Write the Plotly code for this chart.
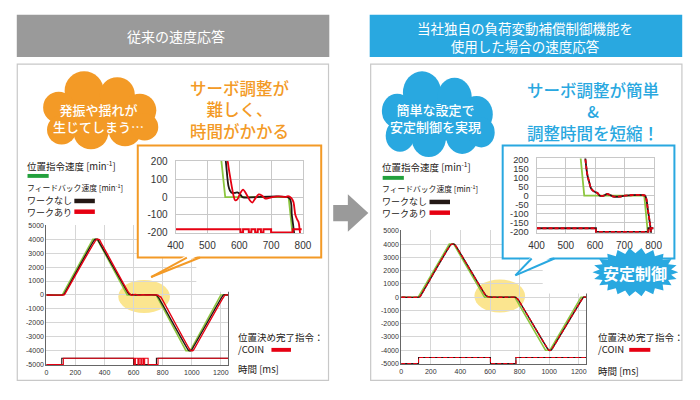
import math
import plotly.graph_objects as go

W, H = 700, 400
FONT = "Noto Sans CJK JP, Noto Sans, sans-serif"

# ---------------- data ----------------
# left: conventional response
cmd_t_L = [0, 110, 320, 350, 546, 556, 755, 765, 960, 990, 1200, 1250]
cmd_v_L = [0, 0, 4000, 4000, 200, 0, 0, -200, -4000, -4000, 0, 0]

fb_nowork_t_L = [0, 112, 122, 130, 330, 338, 352, 360, 558, 566, 571, 579, 587, 594, 602, 610,
                 757, 765, 772, 972, 980, 995, 1005, 1210, 1218, 1250]
fb_nowork_v_L = [0, 0, 60, 200, 3950, 4000, 3990, 3850, 200, 64, 36, 22, 24, 27, 18, 0,
                 -5, -100, -200, -3900, -4000, -4000, -3850, -100, 0, 0]

fb_work_t_L = [0, 116, 126, 135, 342, 352, 364, 374, 564, 571, 577, 582, 587, 594, 602, 612, 622,
               633, 641, 650, 661, 671, 682, 694, 704, 724, 745, 753, 763, 770, 776, 782, 786, 790,
               985, 995, 1008, 1018, 1222, 1232, 1250]
fb_work_v_L = [0, 0, 40, 200, 3950, 4000, 3980, 3800, 200, 118, 55, 9, -18, -13, 18, 42, 18,
               -18, -31, -9, 15, 9, -9, -5, 0, 4, 0, 5, -5, -27, -100, -127, -140, -190,
               -3900, -4000, -4000, -3850, -100, 0, 0]

coin_nowork_t_L = [0, 106, 600, 757, 1250]
coin_nowork_v_L = [-5000, -4550, -5000, -4550, -4550]
coin_work_t_L = [0, 117, 604, 612, 630, 638, 650, 658, 668, 676, 700, 768, 1250]
coin_work_v_L = [-5000, -4550, -5000, -4550, -5000, -4550, -5000, -4550, -5000, -4550, -5000, -4550, -4550]

coin_zoom_t_L = [400, 604, 612, 630, 638, 650, 658, 668, 676, 700, 768, 796]
coin_zoom_v_L = [-182, -200, -182, -200, -182, -200, -182, -200, -182, -200, -182, -182]

# right: with load-fluctuation compensation
cmd_t_R = [0, 115, 325, 355, 553, 563, 768, 778, 975, 1005, 1215, 1250]
cmd_v_R = [0, 0, 4000, 4000, 200, 0, 0, -200, -4000, -4000, 0, 0]

fb_t_R = [0, 118, 128, 136, 335, 345, 360, 370, 567, 574, 580, 586, 597, 608, 616, 630, 641, 652,
          663, 686, 702, 770, 775, 780, 786, 791, 990, 998, 1012, 1022, 1225, 1233, 1250]
fb_nowork_v_R = [0, 0, 60, 200, 3950, 4000, 3990, 3850, 200, 111, 74, 41, 22, 15, 0, 0, 9, 3,
                 -5, -5, 0, 0, -18, -74, -139, -200, -3900, -4000, -4000, -3850, -100, 0, 0]
fb_work_v_R = list(fb_nowork_v_R)

coin_t_R = [0, 117, 603, 775, 1250]
coin_v_R = [-5000, -4550, -5000, -4550, -4550]
coin_zoom_t_R = [400, 603, 782, 800]
coin_zoom_v_R = [-180, -200, -180, -180]

main_xticks = [0, 200, 400, 600, 800, 1000, 1200]
main_xtext = ["0", "200", "400", "600", "800", "1000", "1200"]
main_yticks = [5000, 4000, 3000, 2000, 1000, 0, -1000, -2000, -3000, -4000, -5000]
main_ytext = ["5000", "4000", "3000", "2000", "1000", "0", "-1000", "-2000", "-3000", "-4000", "-5000"]
zoom_xticks = [400, 500, 600, 700, 800]
zoom_xtext = ["400", "500", "600", "700", "800"]
zoomL_yticks = [200, 100, 0, -100, -200]
zoomL_ytext = ["200", "100", "0", "-100", "-200"]
zoomR_yticks = [200, 150, 100, 50, 0, -50, -100, -150, -200]
zoomR_ytext = ["200", "150", "100", "50", "0", "-50", "-100", "-150", "-200"]

# ---------------- colours ----------------
GREEN = "#8cc63f"
GREEN_BAR = "#22a03c"
BLACK = "#231815"
RED = "#e60012"
ORANGE = "#f39a26"
BLUE = "#29a8e0"
GRAY = "#9a9a9a"


def X(px):
    return px / W


def Y(py):
    return 1 - py / H


def dom_x(a, b):
    return [X(a), X(b)]


def dom_y(top, bottom):
    return [Y(bottom), Y(top)]


fig = go.Figure()


def line(x, y, color, ax, width=1.5, dash=None, shape="linear", smooth=None):
    ln = dict(color=color, width=width, shape=shape)
    if dash:
        ln["dash"] = dash
    if smooth is not None:
        ln["smoothing"] = smooth
    fig.add_trace(go.Scatter(x=x, y=y, mode="lines", line=ln, xaxis="x" + ax, yaxis="y" + ax,
                             showlegend=False, hoverinfo="skip"))


# main left
line(cmd_t_L, cmd_v_L, GREEN, "", 1.6)
line(fb_nowork_t_L, fb_nowork_v_L, BLACK, "", 1.4, shape="spline", smooth=0.6)
line(fb_work_t_L, fb_work_v_L, RED, "", 1.4, shape="spline", smooth=0.6)
line(coin_nowork_t_L, coin_nowork_v_L, BLACK, "", 1.1, shape="hv")
line(coin_work_t_L, coin_work_v_L, RED, "", 1.1, shape="hv")
# main right
line(cmd_t_R, cmd_v_R, GREEN, "2", 1.6)
line(fb_t_R, fb_nowork_v_R, BLACK, "2", 1.4, shape="spline", smooth=0.6)
line(fb_t_R, fb_work_v_R, RED, "2", 1.4, dash="4px,2px", shape="spline", smooth=0.6)
line(coin_t_R, coin_v_R, BLACK, "2", 1.1, shape="hv")
line(coin_t_R, coin_v_R, RED, "2", 1.1, dash="4px,2px", shape="hv")
# blank cover subplots (white backgrounds of the zoom boxes)
for ax in ["3", "4"]:
    fig.add_trace(go.Scatter(x=[], y=[], mode="lines", xaxis="x" + ax, yaxis="y" + ax,
                             showlegend=False, hoverinfo="skip"))
# zoom left
line(cmd_t_L, cmd_v_L, GREEN, "5", 1.8)
line(fb_nowork_t_L, fb_nowork_v_L, BLACK, "5", 1.8, shape="spline", smooth=0.8)
line(fb_work_t_L, fb_work_v_L, RED, "5", 1.8, shape="spline", smooth=0.8)
line(coin_zoom_t_L, coin_zoom_v_L, RED, "5", 2.0, shape="hv")
# zoom right
line(cmd_t_R, cmd_v_R, GREEN, "6", 1.8)
line(fb_t_R, fb_nowork_v_R, BLACK, "6", 1.8, shape="spline", smooth=0.8)
line(fb_t_R, fb_work_v_R, RED, "6", 1.8, dash="4px,2px", shape="spline", smooth=0.8)
line(coin_zoom_t_R, coin_zoom_v_R, BLACK, "6", 1.8, shape="hv")
line(coin_zoom_t_R, coin_zoom_v_R, RED, "6", 1.8, dash="4px,2px", shape="hv")


def main_axes(xdom, ydom, xr, yr, anchor_x, anchor_y):
    xa = dict(domain=xdom, range=xr, anchor=anchor_y, tickvals=main_xticks, ticktext=main_xtext,
              tickfont=dict(size=7, color="#333", family="Liberation Sans"), showgrid=True,
              gridcolor="#d6d6d6", gridwidth=1, zeroline=False, showline=True, linecolor="#666",
              linewidth=1, ticks="", fixedrange=True)
    ya = dict(domain=ydom, range=yr, anchor=anchor_x, tickvals=main_yticks, ticktext=main_ytext,
              tickfont=dict(size=7, color="#333", family="Liberation Sans"), showgrid=True,
              gridcolor="#d6d6d6", gridwidth=1, zeroline=False, showline=True, linecolor="#666",
              linewidth=1, mirror=True, ticks="", fixedrange=True)
    return xa, ya


def zoom_axes(xdom, ydom, yticks, ytext, ysize, anchor_x, anchor_y):
    xa = dict(domain=xdom, range=[400, 800], anchor=anchor_y, tickvals=zoom_xticks, ticktext=zoom_xtext,
              tickfont=dict(size=10, color="#333", family="Liberation Sans"), showgrid=True,
              gridcolor="#c8c8c8", zeroline=False, showline=True, linecolor="#c8c8c8", mirror=True,
              ticks="", ticklabelstandoff=3, fixedrange=True)
    ya = dict(domain=ydom, range=[-205, 205], anchor=anchor_x, tickvals=yticks, ticktext=ytext,
              tickfont=dict(size=ysize, color="#333", family="Liberation Sans"), showgrid=True,
              gridcolor="#c8c8c8", zeroline=False, showline=True, linecolor="#c8c8c8", mirror=True,
              ticks="", ticklabelstandoff=5, fixedrange=True)
    return xa, ya


def blank_axes(xdom, ydom, anchor_x, anchor_y):
    return (dict(domain=xdom, range=[0, 1], visible=False, anchor=anchor_y, fixedrange=True),
            dict(domain=ydom, range=[0, 1], visible=False, anchor=anchor_x, fixedrange=True))


x1, y1 = main_axes(dom_x(39.3, 225.6), dom_y(225.3, 369.6), [0, 1250], [-5060, 5050], "x", "y")
x2, y2 = main_axes(dom_x(403, 592.6), dom_y(231.0, 368.5), [0, 1250], [-5060, 5050], "x2", "y2")
x3, y3 = blank_axes(dom_x(133, 321), dom_y(144, 259), "x3", "y3")
x4, y4 = blank_axes(dom_x(507, 683), dom_y(144, 260), "x4", "y4")
x5, y5 = zoom_axes(dom_x(171.7, 302.3), dom_y(159.8, 234.2), zoomL_yticks, zoomL_ytext, 10, "x5", "y5")
x6, y6 = zoom_axes(dom_x(541.7, 661.7), dom_y(157.4, 233.6), zoomR_yticks, zoomR_ytext, 9.3, "x6", "y6")

shapes = []


def rect(x0, y0, x1_, y1_, fill=None, line_color=None, lw=1, layer="below"):
    d = dict(type="rect", xref="paper", yref="paper", x0=X(x0), x1=X(x1_), y0=Y(y1_), y1=Y(y0),
             layer=layer, line=dict(width=lw if line_color else 0, color=line_color or "rgba(0,0,0,0)"))
    if fill:
        d["fillcolor"] = fill
    shapes.append(d)


def ellipse(cx, cy, rx, ry, fill, layer="above"):
    shapes.append(dict(type="circle", xref="paper", yref="paper", x0=X(cx - rx), x1=X(cx + rx),
                       y0=Y(cy + ry), y1=Y(cy - ry), fillcolor=fill,
                       line=dict(width=0), layer=layer))


def poly(pts, fill=None, line_color=None, lw=1, layer="above", closed=True):
    p = "M " + " L ".join(f"{X(a):.5f},{Y(b):.5f}" for a, b in pts)
    if closed:
        p += " Z"
    d = dict(type="path", xref="paper", yref="paper", path=p, layer=layer,
             line=dict(width=lw if line_color else 0, color=line_color or "rgba(0,0,0,0)"))
    if fill:
        d["fillcolor"] = fill
    shapes.append(d)


def segment(xa, ya, xb, yb, color, lw):
    shapes.append(dict(type="line", xref="paper", yref="paper", x0=X(xa), y0=Y(ya), x1=X(xb), y1=Y(yb),
                       line=dict(color=color, width=lw), layer="above"))


CLOUD = [(-17, -20, 20), (17, -16, 18), (40, 0, 17), (-43, -3, 16), (-40, 20, 15), (-10, 22, 18),
         (25, 20, 17), (45, 17, 14)]


def cloud(cx, cy, sx, sy, color):
    ellipse(cx, cy, 45 * sx, 25 * sy, color)
    for dx, dy, r in CLOUD:
        ellipse(cx + dx * sx, cy + dy * sy, r * sx, r * sy, color)


# banners and frames
rect(9, 10, 329.3, 53.3, fill=GRAY)
rect(370.7, 10, 691, 53.3, fill=BLUE)
rect(9.5, 60.7, 328.5, 385, line_color="#c8c8c8", lw=1.2)
rect(371.7, 60.7, 690.7, 385, line_color="#c8c8c8", lw=1.2)
# arrow
poly([(333.3, 205), (348.3, 205), (348.3, 194), (369.3, 213.3), (348.3, 232.6), (348.3, 221.7),
      (333.3, 221.7)], fill=GRAY, layer="below")
# highlight ellipses
ellipse(139.5, 299, 26.5, 17, "#fbe58f", layer="below")
ellipse(504, 298.5, 26, 17, "#fbe58f", layer="below")
# blank regions of main charts
rect(193, 259.5, 230, 294, fill="white", layer="above")
rect(548, 260.5, 597, 296, fill="white", layer="above")
# zoom boxes
rect(133, 144, 321, 259, line_color=ORANGE, lw=2, layer="above")
rect(507, 144, 683, 260, line_color=BLUE, lw=2, layer="above")
# callout tails
poly([(183.3, 256.5), (146.7, 279), (196.7, 256.5)], fill="white", layer="above")
segment(183.3, 259, 146.7, 279, ORANGE, 2)
segment(196.7, 259, 146.7, 279, ORANGE, 2)
poly([(536.7, 257.5), (520, 277.3), (560, 257.5)], fill="white", layer="above")
segment(536.7, 260, 520, 277.3, BLUE, 2)
segment(560, 260, 520, 277.3, BLUE, 2)
# clouds
cloud(95, 108, 1.0, 1.0, ORANGE)
cloud(441, 112, 0.98, 1.1, BLUE)
# starburst
star = []
n = 22
for i in range(2 * n):
    a = math.pi * i / n
    rx, ry = (44, 25) if i % 2 == 0 else (37, 19.5)
    star.append((643 + rx * math.cos(a), 274 + ry * math.sin(a)))
poly(star, fill=BLUE, layer="above")
# legend bars
rect(20, 173.3, 41.7, 177.3, fill=GREEN_BAR, layer="above")
rect(68, 198.7, 89, 203.3, fill=BLACK, layer="above")
rect(68, 209.7, 89, 214.3, fill=RED, layer="above")
rect(384, 175.3, 405.7, 179.3, fill=GREEN_BAR, layer="above")
rect(432, 199.7, 453, 204.3, fill=BLACK, layer="above")
rect(432, 210.7, 453, 215.3, fill=RED, layer="above")
rect(270, 351.7, 290, 355.7, fill=RED, layer="above")
rect(636.7, 351.7, 658.3, 355.7, fill=RED, layer="above")

annotations = []


def txt(s, x, y, size, color="#231815", xanchor="center", bold=False, weight=None):
    if bold:
        s = "<b>" + s + "</b>"
    f = dict(size=size, color=color, family=FONT)
    if weight:
        f["weight"] = weight
    annotations.append(dict(text=s, x=X(x), y=Y(y), xref="paper", yref="paper", showarrow=False,
                            xanchor=xanchor, yanchor="middle", align=xanchor if xanchor != "center" else "center",
                            borderpad=0, font=f))


txt("従来の速度応答", 172, 32, 14, "white")
txt("当社独自の負荷変動補償制御機能を<br>使用した場合の速度応答", 530, 32.5, 13.5, "white")

txt("発振や揺れが<br>生じてしまう…", 93, 116, 13, "white", weight=500)
txt("簡単な設定で<br>安定制御を実現", 438, 115.5, 13, "white", weight=500)

txt("サーボ調整が<br>難しく、<br>時間がかかる", 238, 107, 16.5, ORANGE, weight=500)
txt("サーボ調整が簡単<br>&<br>調整時間を短縮！", 600, 108.8, 16.5, BLUE, weight=500)

txt("安定制御", 643, 275, 16, "white", bold=True)

for dx, dy in [(0, 0), (364, 1)]:
    txt("位置指令速度 [min<sup>-1</sup>]", 18.5 + dx, 164.5 + dy, 9.5, xanchor="left")
    txt("フィードバック速度 [min<sup>-1</sup>]", 18.5 + dx, 187.5 + dy, 7.8, xanchor="left")
    txt("ワークなし<br>ワークあり", 18.5 + dx, 206.2 + dy, 9, xanchor="left")

txt("位置決め完了指令：<br>/COIN", 234.5, 346.7, 9.5, xanchor="left")
txt("時間 [ms]", 234.5, 373.5, 9.5, xanchor="left")
txt("位置決め完了指令：<br>/COIN", 604, 346.7, 9.5, xanchor="left")
txt("時間 [ms]", 604, 375, 9.5, xanchor="left")

fig.update_layout(
    width=W, height=H, margin=dict(l=0, r=0, t=0, b=0),
    paper_bgcolor="white", plot_bgcolor="white", showlegend=False,
    font=dict(family=FONT),
    xaxis=x1, yaxis=y1, xaxis2=x2, yaxis2=y2, xaxis3=x3, yaxis3=y3,
    xaxis4=x4, yaxis4=y4, xaxis5=x5, yaxis5=y5, xaxis6=x6, yaxis6=y6,
    shapes=shapes, annotations=annotations,
)

fig.write_html("out.html", config={"displayModeBar": False, "staticPlot": True},
               post_script="document.body.style.margin='0px';document.body.style.padding='0px';")
